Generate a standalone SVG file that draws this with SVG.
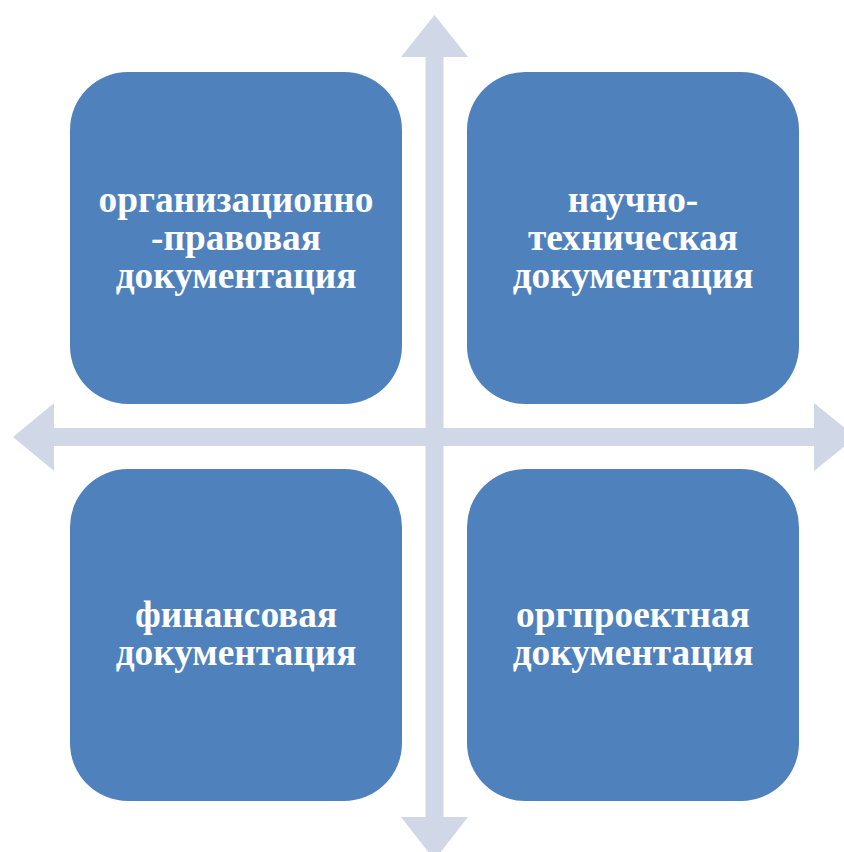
<svg xmlns="http://www.w3.org/2000/svg" width="844" height="852" viewBox="0 0 844 852">
<style>
.box{fill:#4F81BD;}
.arr{fill:#D0D8E8;}
.t{font-family:"Liberation Serif","Times New Roman",serif;font-weight:bold;font-size:37.3px;fill:#FFFFFF;text-anchor:middle;}
</style>
<rect width="844" height="852" fill="#FFFFFF"/>
<g id="connectors">
<polygon class="arr" points="434.5,15 468,57 443.5,57 443.5,428 814,428 814,403 856,437 814,471 814,446 443.5,446 443.5,817 468,817 434.5,860 401,817 425.5,817 425.5,446 54,446 54,471 13,437 54,403 54,428 425.5,428 425.5,57 401,57"/>
</g>
<g id="node1">
<rect class="box" x="70" y="72" width="332" height="332" rx="58" ry="58"/>
<text class="t" x="236" y="212">организационно</text>
<text class="t" x="236" y="250">-правовая</text>
<text class="t" x="236" y="288">документация</text>
</g>
<g id="node2">
<rect class="box" x="467" y="72" width="332" height="332" rx="58" ry="58"/>
<text class="t" x="633" y="212">научно-</text>
<text class="t" x="633" y="250">техническая</text>
<text class="t" x="633" y="288">документация</text>
</g>
<g id="node3">
<rect class="box" x="70" y="469" width="332" height="332" rx="58" ry="58"/>
<text class="t" x="236" y="627">финансовая</text>
<text class="t" x="236" y="665">документация</text>
</g>
<g id="node4">
<rect class="box" x="467" y="469" width="332" height="332" rx="58" ry="58"/>
<text class="t" x="633" y="627">оргпроектная</text>
<text class="t" x="633" y="665">документация</text>
</g>
</svg>
